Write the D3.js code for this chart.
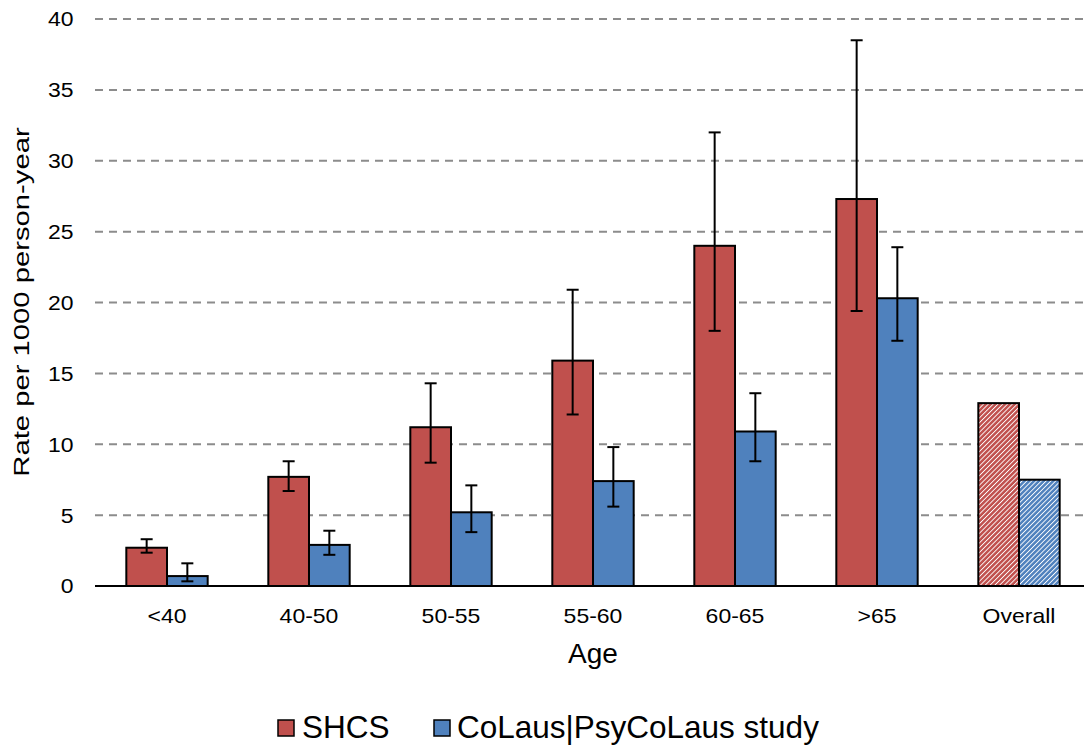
<!DOCTYPE html>
<html>
<head>
<meta charset="utf-8">
<script src="https://cdn.jsdelivr.net/npm/d3@7"></script>
<style>
  body { margin: 0; background: #fff; }
  svg { display: block; font-family: "Liberation Sans", Arial, sans-serif; }
</style>
</head>
<body>
<div id="chart"></div>
<script>
// --- Data ---
const categories = ["<40", "40-50", "50-55", "55-60", "60-65", ">65", "Overall"];
const seriesNames = ["SHCS", "CoLaus|PsyCoLaus study"];
const shcs      = [2.7, 7.7, 11.2, 15.9, 24.0, 27.3, 12.9];
const shcsLow   = [2.35, 6.7, 8.7, 12.1, 18.0, 19.4, null];
const shcsHigh  = [3.3, 8.8, 14.3, 20.9, 32.0, 38.5, null];
const colaus     = [0.7, 2.9, 5.2, 7.4, 10.9, 20.3, 7.5];
const colausLow  = [0.33, 2.2, 3.8, 5.6, 8.8, 17.3, null];
const colausHigh = [1.6, 3.9, 7.1, 9.8, 13.6, 23.9, null];
const yTicks = [0, 5, 10, 15, 20, 25, 30, 35, 40];

const colors = ["#C0504D", "#4F81BD"];

// --- Setup ---
const W = 1084, H = 747;
const svg = d3.select("#chart").append("svg")
    .attr("width", W)
    .attr("height", H);

const x0 = d3.scaleBand()
    .domain(categories)
    .range([96, 1090])
    .paddingInner(0.427)
    .paddingOuter(0.2135);

const x1 = d3.scaleBand()
    .domain(seriesNames)
    .range([0, x0.bandwidth()]);

const y = d3.scaleLinear().domain([0, 40]).range([586, 19]);

// hatch patterns for the "Overall" bars
const defs = svg.append("defs");
colors.forEach((c, i) => {
    const p = defs.append("pattern")
        .attr("id", "hatch" + i)
        .attr("patternUnits", "userSpaceOnUse")
        .attr("width", 3.4)
        .attr("height", 3.4)
        .attr("patternTransform", "rotate(45)");
    p.append("rect").attr("width", 3.4).attr("height", 3.4).attr("fill", c);
    p.append("rect").attr("width", 0.9).attr("height", 3.4).attr("fill", "#fff");
});

// gridlines
svg.append("g")
    .selectAll("line")
    .data(yTicks.filter(d => d > 0))
    .join("line")
    .attr("x1", 95)
    .attr("x2", W)
    .attr("y1", d => y(d))
    .attr("y2", d => y(d))
    .attr("stroke", "#8c8c8c")
    .attr("stroke-width", 2)
    .attr("stroke-dasharray", "8,6");

// y tick labels
svg.append("g")
    .selectAll("text")
    .data(yTicks)
    .join("text")
    .attr("transform", d => `translate(73.5,${y(d)}) scale(1.12,1)`)
    .attr("dy", "0.36em")
    .attr("text-anchor", "end")
    .attr("font-size", 20.5)
    .attr("fill", "#000")
    .text(d => d);

// bars
const rows = categories.map((c, i) => ({
    cat: c,
    vals: [
        { s: 0, v: shcs[i], lo: shcsLow[i], hi: shcsHigh[i] },
        { s: 1, v: colaus[i], lo: colausLow[i], hi: colausHigh[i] }
    ]
}));

const groups = svg.append("g")
    .selectAll("g")
    .data(rows)
    .join("g")
    .attr("transform", d => `translate(${x0(d.cat)},0)`);

groups.selectAll("rect")
    .data(d => d.vals.map(v => ({ ...v, cat: d.cat })))
    .join("rect")
    .attr("x", d => x1(seriesNames[d.s]))
    .attr("width", x1.bandwidth())
    .attr("y", d => y(d.v))
    .attr("height", d => y(0) - y(d.v))
    .attr("fill", d => d.cat === "Overall" ? `url(#hatch${d.s})` : colors[d.s])
    .attr("stroke", "#000")
    .attr("stroke-width", 2);

// error bars
const errs = groups.selectAll("g.err")
    .data(d => d.vals.filter(v => v.lo != null))
    .join("g")
    .attr("class", "err")
    .attr("stroke", "#000")
    .attr("stroke-width", 2);

const cx = d => x1(seriesNames[d.s]) + x1.bandwidth() / 2;
errs.append("line")
    .attr("x1", cx).attr("x2", cx)
    .attr("y1", d => y(d.lo)).attr("y2", d => y(d.hi));
errs.append("line")
    .attr("x1", d => cx(d) - 6).attr("x2", d => cx(d) + 6)
    .attr("y1", d => y(d.hi)).attr("y2", d => y(d.hi));
errs.append("line")
    .attr("x1", d => cx(d) - 6).attr("x2", d => cx(d) + 6)
    .attr("y1", d => y(d.lo)).attr("y2", d => y(d.lo));

// x axis line
svg.append("line")
    .attr("x1", 95).attr("x2", W)
    .attr("y1", y(0)).attr("y2", y(0))
    .attr("stroke", "#000")
    .attr("stroke-width", 2);

// x tick labels
svg.append("g")
    .selectAll("text")
    .data(categories)
    .join("text")
    .attr("transform", d => `translate(${x0(d) + x0.bandwidth() / 2},623) scale(1.15,1)`)
    .attr("text-anchor", "middle")
    .attr("font-size", 20)
    .attr("fill", "#000")
    .text(d => d);

// axis titles
svg.append("text")
    .attr("x", 593)
    .attr("y", 663)
    .attr("text-anchor", "middle")
    .attr("font-size", 28)
    .attr("fill", "#000")
    .text("Age");

svg.append("text")
    .attr("transform", "translate(29,302) rotate(-90) scale(1.3,1)")
    .attr("text-anchor", "middle")
    .attr("font-size", 22.5)
    .attr("fill", "#000")
    .text("Rate per 1000 person-year");

// legend
const legendPos = [{ sx: 278, tx: 302 }, { sx: 434, tx: 457 }];
const legend = svg.append("g")
    .selectAll("g")
    .data(seriesNames)
    .join("g");

legend.append("rect")
    .attr("x", (d, i) => legendPos[i].sx)
    .attr("y", 720)
    .attr("width", 16)
    .attr("height", 16)
    .attr("fill", (d, i) => colors[i])
    .attr("stroke", "#000")
    .attr("stroke-width", 1.5);

legend.append("text")
    .attr("x", (d, i) => legendPos[i].tx)
    .attr("y", 738)
    .attr("font-size", 31.5)
    .attr("fill", "#000")
    .text(d => d);
</script>
</body>
</html>
